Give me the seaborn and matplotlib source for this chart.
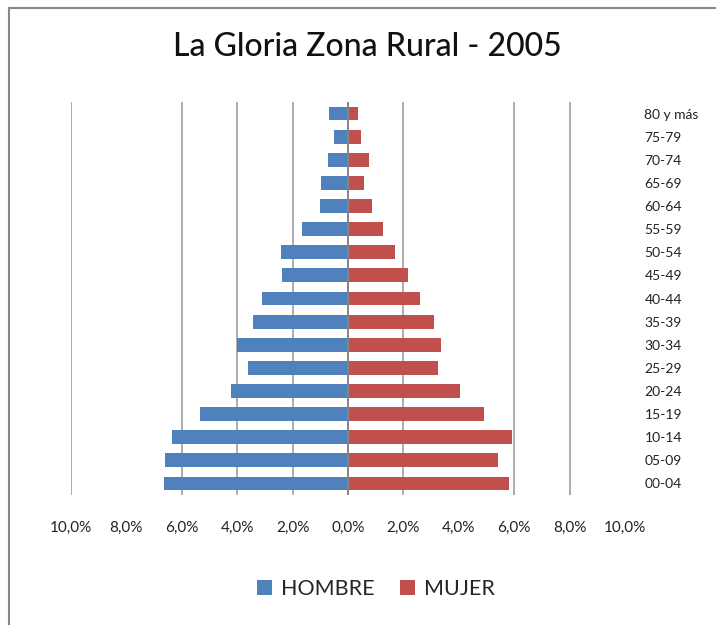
import matplotlib
matplotlib.use("Agg")
import matplotlib.pyplot as plt
import seaborn as sns
import pandas as pd
from matplotlib.patches import Patch
from matplotlib.lines import Line2D

ages = ["80 y más", "75-79", "70-74", "65-69", "60-64", "55-59", "50-54", "45-49",
        "40-44", "35-39", "30-34", "25-29", "20-24", "15-19", "10-14", "05-09", "00-04"]
hombre = [0.69, 0.52, 0.73, 0.98, 1.02, 1.67, 2.41, 2.38, 3.10, 3.42, 4.00, 3.62,
          4.21, 5.33, 6.35, 6.59, 6.63]
mujer = [0.37, 0.46, 0.75, 0.59, 0.88, 1.25, 1.71, 2.18, 2.59, 3.11, 3.37, 3.24,
         4.03, 4.91, 5.93, 5.42, 5.80]
series = ["HOMBRE", "MUJER"]
colors = ["#4F81BD", "#C0504D"]
xticks = [-10, -8, -6, -4, -2, 0, 2, 4, 6, 8, 10]
grid_visible = [-10, -6, -4, -2, 2, 6, 8]
title = "La Gloria Zona Rural - 2005"

sns.set_theme(style="white")
plt.rcParams["font.family"] = ["Lato", "DejaVu Sans"]

df = pd.DataFrame({
    "edad": ages * 2,
    "valor": [-v for v in hombre] + mujer,
    "sexo": [series[0]] * len(ages) + [series[1]] * len(ages),
})

fig = plt.figure(figsize=(7.16, 6.25), dpi=100)
ax = fig.add_axes([71 / 716, 1 - 495 / 625, 554 / 716, 393 / 625])

for g in grid_visible:
    ax.axvline(g, color="#A6A6A6", lw=1.3, zorder=0)
ax.axvline(0, color="#868686", lw=1.3, zorder=0)

sns.barplot(data=df, x="valor", y="edad", hue="sexo", order=ages,
            palette=colors, saturation=1, dodge=False, width=0.6, orient="h",
            edgecolor="none", ax=ax, legend=False, zorder=2)
ax.axvline(0, color="#868686", lw=1.3, zorder=3)

ax.set_xlim(-10, 10)
ax.set_ylim(len(ages) - 0.5, -0.5)
ax.set_xticks(xticks)
ax.set_xticklabels([f"{abs(t):.1f}%".replace(".", ",") for t in xticks],
                   fontsize=11, color="#222222")
ax.yaxis.tick_right()
ax.tick_params(axis="y", length=0, pad=14, labelsize=10, labelcolor="#222222")
ax.tick_params(axis="x", length=0, pad=19)
for lab in ax.get_yticklabels():
    lab.set_horizontalalignment("left")
ax.set_xlabel("")
ax.set_ylabel("")
for s in ax.spines.values():
    s.set_visible(False)

fig.text(367 / 716, 1 - 47 / 625, title, ha="center", va="center",
         fontsize=23, fontweight="medium", color="#111111")

handles = [Patch(facecolor=c, edgecolor="none") for c in colors]
fig.legend(handles, series, loc="center", bbox_to_anchor=(376 / 716, 1 - 589 / 625),
           ncol=2, frameon=False, fontsize=15.5, handlelength=0.7, handleheight=0.7,
           handletextpad=0.4, columnspacing=1.2)

# chart border
fig.add_artist(Line2D([9 / 716, 9 / 716], [0, 1 - 8 / 625], transform=fig.transFigure,
                      color="#888888", lw=1.5))
fig.add_artist(Line2D([9 / 716, 1], [1 - 8 / 625, 1 - 8 / 625], transform=fig.transFigure,
                      color="#888888", lw=1.5))

fig.savefig("out.png", dpi=100)
